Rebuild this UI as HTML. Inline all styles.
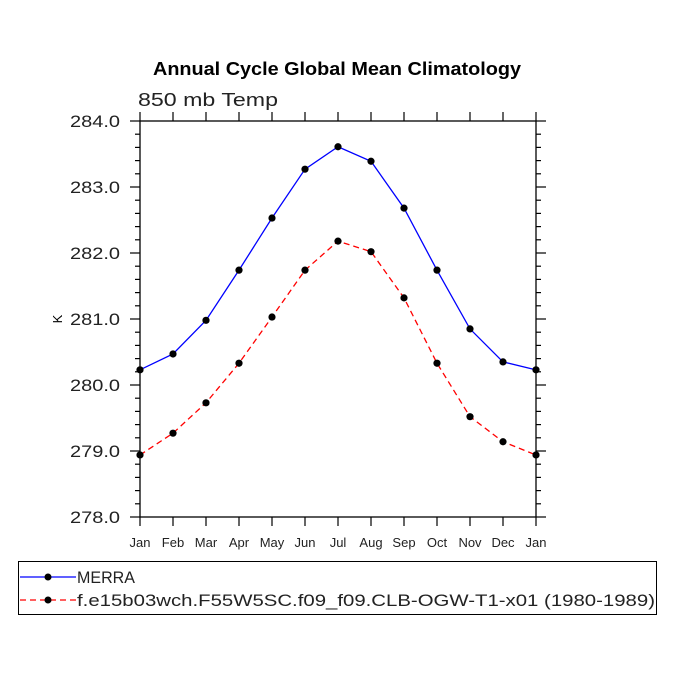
<!DOCTYPE html>
<html><head><meta charset="utf-8"><style>body{margin:0;background:#fff}svg{display:block}</style></head>
<body>
<svg id="chart" width="675" height="675" viewBox="0 0 675 675" font-family="Liberation Sans, sans-serif">
<text x="337" y="75" text-anchor="middle" font-size="18" font-weight="bold" textLength="368" lengthAdjust="spacingAndGlyphs">Annual Cycle Global Mean Climatology</text>
<text x="138" y="106" font-size="18" fill="#222" textLength="140" lengthAdjust="spacingAndGlyphs">850 mb Temp</text>
<text x="62" y="319" font-size="13" text-anchor="middle" transform="rotate(-90 62 319)">K</text>
<g id="axes"></g>
<g id="series"></g>
<rect x="18.5" y="561.5" width="638" height="53" fill="none" stroke="#000" stroke-width="1"/>
<g>
<line x1="20" y1="577" x2="76" y2="577" stroke="#0000ff" stroke-width="1.2"/>
<circle cx="48" cy="577" r="3.5" fill="#000"/>
<text x="77" y="583" font-size="17" fill="#222" textLength="58" lengthAdjust="spacingAndGlyphs">MERRA</text>
</g>
<g>
<line x1="20" y1="600" x2="76" y2="600" stroke="#ff0000" stroke-width="1.2" stroke-dasharray="6,4"/>
<circle cx="48" cy="600" r="3.5" fill="#000"/>
<text x="77" y="606" font-size="17" fill="#222" textLength="578" lengthAdjust="spacingAndGlyphs">f.e15b03wch.F55W5SC.f09_f09.CLB-OGW-T1-x01 (1980-1989)</text>
</g>
</svg>
<script>
const months = ["Jan","Feb","Mar","Apr","May","Jun","Jul","Aug","Sep","Oct","Nov","Dec","Jan"];
const merra = [280.23,280.47,280.98,281.74,282.53,283.27,283.61,283.39,282.68,281.74,280.85,280.35,280.23];
const model = [278.94,279.27,279.73,280.33,281.03,281.74,282.18,282.02,281.32,280.33,279.52,279.14,278.94];
const yTicks = ["278.0","279.0","280.0","281.0","282.0","283.0","284.0"];
const yMin = 278, yMax = 284;
const L=140,R=536,T=121,B=517;
const NS="http://www.w3.org/2000/svg";
const xs = i => L + i*(R-L)/(months.length-1);
const ys = v => B - (v-yMin)/(yMax-yMin)*(B-T);
function mk(tag, attrs, parent){const e=document.createElementNS(NS,tag);for(const k in attrs)e.setAttribute(k,attrs[k]);parent.appendChild(e);return e;}
const ax=document.getElementById('axes');
const frame=mk('rect',{x:L,y:T,width:R-L,height:B-T,fill:'none',stroke:'#000','stroke-width':1.3},ax);


for(let v=yMin; v<=yMax+1e-9; v+=0.2){
  const y=ys(v); const major=Math.abs(v-Math.round(v))<1e-6; const len=major?10:5;
  mk('line',{x1:L-len,y1:y,x2:L,y2:y,stroke:'#000','stroke-width':1.2},ax);
  mk('line',{x1:R,y1:y,x2:R+len,y2:y,stroke:'#000','stroke-width':1.2},ax);
}
yTicks.forEach(t=>{
  const e=mk('text',{x:L-20,y:ys(parseFloat(t))+6,'text-anchor':'end','font-size':17,fill:'#222',textLength:50,lengthAdjust:'spacingAndGlyphs'},ax);
  e.textContent=t;
  
  
});
months.forEach((m,i)=>{
  const x=xs(i);
  mk('line',{x1:x,y1:B,x2:x,y2:B+9,stroke:'#000','stroke-width':1.2},ax);
  mk('line',{x1:x,y1:T-9,x2:x,y2:T,stroke:'#000','stroke-width':1.2},ax);
  const e=mk('text',{x:x,y:B+30,'text-anchor':'middle','font-size':13,fill:'#222'},ax);
  e.textContent=m;
  
  
});
const sg=document.getElementById('series');
function series(vals,color,dash,name){
  const g=mk('g',{},sg);
  
  
  const pts=vals.map((v,i)=>xs(i)+','+ys(v)).join(' ');
  const attrs={points:pts,fill:'none',stroke:color,'stroke-width':1.3};
  if(dash)attrs['stroke-dasharray']=dash;
  mk('polyline',attrs,g);
  vals.forEach((v,i)=>{
    const c=mk('circle',{cx:xs(i),cy:ys(v),r:3.6,fill:'#000'},g);
    
    
  });
}
series(merra,'#0000ff',null,'series-merra');
series(model,'#ff0000','6,4','series-model');
</script>
</body></html>
